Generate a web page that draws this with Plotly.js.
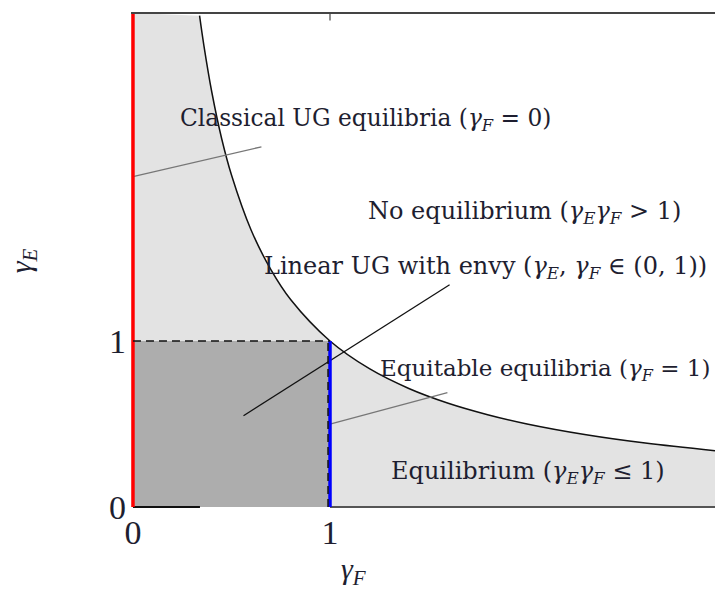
<!DOCTYPE html>
<html>
<head>
<meta charset="utf-8">
<script src="https://cdn.plot.ly/plotly-3.0.1.min.js"></script>
<style>html,body{margin:0;padding:0;background:#fff;}#chart{width:715px;height:590px;}</style>
</head>
<body>
<div id="chart"></div>
<script>
// Boundary gamma_E * gamma_F = 1
const curveX = [0.338, 0.36, 0.4, 0.45, 0.5, 0.6, 0.7, 0.8, 1.0, 1.2, 1.4, 1.6, 1.8, 2.0, 2.3, 2.6, 2.954];
const curveY = [2.96, 2.78, 2.5, 2.22, 2.0, 1.667, 1.43, 1.25, 1.0, 0.833, 0.714, 0.625, 0.556, 0.5, 0.435, 0.385, 0.339];
const topY = 2.976;
const xMax = 2.954;
// Regions
const rectX = [0, 1, 1, 0, 0];
const rectY = [0, 0, 1, 1, 0];
// Special lines
const classicalX = [0, 0];          // gamma_F = 0 (red)
const classicalY = [0, topY];
const equitableX = [1, 1];          // gamma_F = 1 (blue)
const equitableY = [0, 1];
const dashHX = [0, 1], dashHY = [1, 1];
const dashVX = [0.99, 0.99], dashVY = [0, 1];
const axisBlackX = [0, 0.34], axisBlackY = [0, 0];
const axisGrayX = [1, xMax], axisGrayY = [0, 0];
// Leader lines
const leadClassicalX = [0, 0.652], leadClassicalY = [1.99, 2.17];
const leadLinearX = [0.561, 1.607], leadLinearY = [0.55, 1.339];
const leadEquitableX = [1, 1.596], leadEquitableY = [0.50, 0.689];
// Ticks
const tickVals = [0, 1];
const tickText = ['0', '1'];
// Labels
const labels = [
  {text: 'Classical UG equilibria (<i>γ</i><sub><i>F</i></sub> = 0)', x: 1.18, y: 2.333, s: 23.3},
  {text: 'No equilibrium (<i>γ</i><sub><i>E</i></sub><i>γ</i><sub><i>F</i></sub> > 1)', x: 1.987, y: 1.777, s: 24},
  {text: 'Linear UG with envy (<i>γ</i><sub><i>E</i></sub>, <i>γ</i><sub><i>F</i></sub> ∈ (0, 1))', x: 1.789, y: 1.44, s: 24},
  {text: 'Equitable equilibria (<i>γ</i><sub><i>F</i></sub> = 1)', x: 2.09, y: 0.825, s: 23},
  {text: 'Equilibrium (<i>γ</i><sub><i>E</i></sub><i>γ</i><sub><i>F</i></sub> ≤ 1)', x: 2.005, y: 0.21, s: 24}
];

const FONT = 'DejaVu Serif, serif';
const TICKFONT = 'Liberation Serif, serif';
const INK = '#1e1e30';
const line = (x, y, color, width, dash) => ({x, y, type: 'scatter', mode: 'lines',
  line: {color, width, dash: dash || 'solid'}, hoverinfo: 'skip', showlegend: false});

const fillX = [0].concat(curveX, [xMax, xMax, 0]);
const fillY = [topY].concat(curveY, [curveY[curveY.length - 1], 0, 0]);

const traces = [
  {x: fillX, y: fillY, type: 'scatter', mode: 'none', fill: 'toself', fillcolor: '#e3e3e3', hoverinfo: 'skip', showlegend: false},
  {x: rectX, y: rectY, type: 'scatter', mode: 'none', fill: 'toself', fillcolor: '#adadad', hoverinfo: 'skip', showlegend: false},
  {x: curveX, y: curveY, type: 'scatter', mode: 'lines', line: {color: '#111', width: 1.5, shape: 'spline'}, hoverinfo: 'skip', showlegend: false},
  line(axisBlackX, axisBlackY, '#111', 2),
  line(axisGrayX, axisGrayY, '#555', 2),
  line(leadClassicalX, leadClassicalY, '#777', 1.3),
  line(leadLinearX, leadLinearY, '#111', 1.3),
  line(leadEquitableX, leadEquitableY, '#777', 1.3),
  line(classicalX, classicalY, '#ff0000', 3.5),
  line(equitableX, equitableY, '#0000ff', 3.5),
  line(dashHX, dashHY, '#111', 1.5, '8px,5px'),
  line(dashVX, dashVY, '#111', 1.5, '8px,5px')
];

const annotations = labels.map(l => ({text: l.text, x: l.x, y: l.y, xref: 'x', yref: 'y',
  showarrow: false, xanchor: 'center', yanchor: 'middle', font: {family: FONT, size: l.s, color: INK}}));
annotations.push({text: '<i>γ</i><sub><i>F</i></sub>', xref: 'paper', yref: 'paper', x: 0.381, y: -0.125,
  showarrow: false, xanchor: 'center', yanchor: 'middle', font: {family: TICKFONT, size: 30, color: INK}});

const layout = {
  width: 715, height: 590,
  margin: {l: 131, r: 0, t: 13, b: 81, pad: 0},
  paper_bgcolor: '#fff', plot_bgcolor: '#fff',
  showlegend: false,
  xaxis: {range: [-0.01, xMax], showgrid: false, zeroline: false, showline: false,
    tickmode: 'array', tickvals: tickVals, ticktext: tickText, ticks: '',
    tickfont: {family: TICKFONT, size: 34, color: INK}, fixedrange: true},
  yaxis: {range: [-0.012, topY], showgrid: false, zeroline: false, showline: false,
    tickmode: 'array', tickvals: tickVals, ticktext: tickText, ticks: '', ticklabelstandoff: 4,
    tickfont: {family: TICKFONT, size: 34, color: INK}, fixedrange: true,
    title: {text: '<i>γ</i><sub><i>E</i></sub>', standoff: 68, font: {family: TICKFONT, size: 30, color: INK}}},
  shapes: [
    {type: 'line', xref: 'paper', yref: 'paper', x0: 0, x1: 1, y0: 1, y1: 1, line: {color: '#444', width: 2}},
    {type: 'line', xref: 'x', yref: 'paper', x0: 1, x1: 1, y0: 1, y1: 0.985, line: {color: '#444', width: 1.2}}
  ],
  annotations
};

Plotly.newPlot('chart', traces, layout, {staticPlot: true, displayModeBar: false});
</script>
</body>
</html>
